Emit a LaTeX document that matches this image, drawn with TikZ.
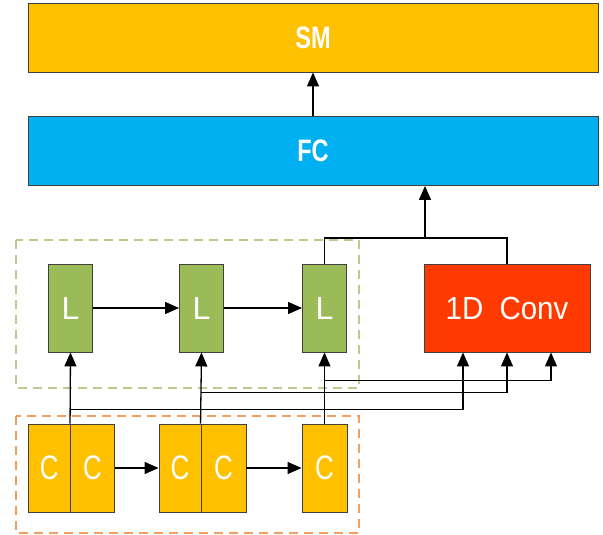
\documentclass[tikz,border=0pt]{standalone}
\usepackage{fontspec}
\setmainfont{Liberation Sans}
\newfontfamily\nar{Liberation Sans}[FakeStretch=0.76]
\newfontfamily\narc{Liberation Sans}[FakeStretch=0.92]
\usetikzlibrary{arrows.meta,calc}
\definecolor{smyellow}{HTML}{FFC000}
\definecolor{fcblue}{HTML}{00B0F0}
\definecolor{lgreen}{HTML}{9BBB59}
\definecolor{convred}{HTML}{FF3A00}
\definecolor{dgreen}{HTML}{B8CC8E}
\definecolor{dorange}{HTML}{F0A060}
\definecolor{edge}{HTML}{404040}
\tikzset{
  box/.style={draw=edge, line width=0.9pt, inner sep=0pt, text=white, font=\nar},
  wide/.style={box, minimum width=570, minimum height=69, font=\nar\bfseries\fontsize{31}{31}\selectfont},
  lbox/.style={box, fill=lgreen, minimum width=44, minimum height=88, font=\fontsize{32}{32}\selectfont},
  cbox/.style={box, fill=smyellow, minimum height=88, font=\nar\fontsize{34}{34}\selectfont},
  arr/.style={line width=1.3pt, -{Triangle[length=14pt,width=12pt]}},
  ln/.style={line width=1.3pt},
  grp/.style={dashed, dash pattern=on 9pt off 6pt, line width=1.1pt}
}
\begin{document}
\begin{tikzpicture}[x=1pt,y=-1pt]
\useasboundingbox (0,0) rectangle (603,535);
% group boxes
\draw[grp, draw=dgreen] (16,240) rectangle (359,388);
\draw[grp, draw=dorange] (16,416) rectangle (359,533);
% top boxes
\node[wide, fill=smyellow] (SM) at (313,37.5) {SM};
\node[wide, fill=fcblue] (FC) at (313,151) {FC};
% L boxes
\node[lbox] (L1) at (70.5,308) {L};
\node[lbox] (L2) at (201.5,308) {L};
\node[lbox] (L3) at (324.5,308) {L};
% conv
\node[box, fill=convred, minimum width=166, minimum height=88, font=\narc\fontsize{32}{32}\selectfont] (Conv) at (507,308) {1D\ \ Conv};
% C boxes
\node[cbox, minimum width=42.5] (C1a) at (49.25,468) {C};
\node[cbox, minimum width=44] (C1b) at (92.5,468) {C};
\node[cbox, minimum width=42] (C2a) at (180,468) {C};
\node[cbox, minimum width=45] (C2b) at (223.5,468) {C};
\node[cbox, minimum width=45] (C3) at (324.5,468) {C};
% connectors
\draw[arr] (FC.north) -- (SM.south);
\draw[arr] (L1.east) -- (L2.west);
\draw[arr] (L2.east) -- (L3.west);
\draw[arr] (C1b.east) -- (C2a.west);
\draw[arr] (C2b.east) -- (C3.west);
\draw[arr] (C1b.north west) -- (L1.south);
\draw[arr] (C2b.north west) -- (L2.south);
\draw[arr] (C3.north) -- (L3.south);
\coordinate (ci1) at ($(Conv.south)+(-44,0)$);
\coordinate (ci2) at (Conv.south);
\coordinate (ci3) at ($(Conv.south)+(44,0)$);
\draw[arr] ($(C1b.north west)+(0,-14)$) -| (ci1);
\draw[arr] ($(C2b.north west)+(0,-31)$) -| (ci2);
\draw[arr] ($(C3.north)+(0,-43)$) -| (ci3);
\coordinate (J) at (425,238);
\draw[ln] (L3.north) |- (J) -| (Conv.north);
\draw[arr] (J) -- (J |- FC.south);
\end{tikzpicture}
\end{document}
